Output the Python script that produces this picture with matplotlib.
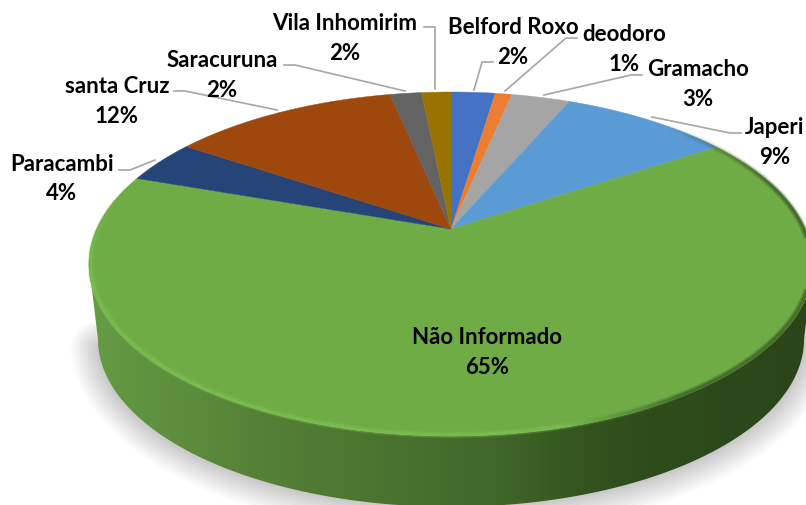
#!/usr/bin/env python3
import numpy as np
from matplotlib import pyplot as plt
from matplotlib.collections import LineCollection
from matplotlib.colors import LinearSegmentedColormap, to_rgb
from matplotlib.patches import Polygon

plt.rcParams["font.family"] = ["Lato", "DejaVu Sans"]

# data, clockwise from 12 o'clock
names = ["Belford Roxo", "deodoro", "Gramacho", "Japeri", "Não Informado",
         "Paracambi", "santa Cruz", "Saracuruna", "Vila Inhomirim"]
shares = [2.4, 0.9, 3.2, 9.2, 64.6, 4.1, 12.3, 1.7, 1.6]
pct_labels = ["2%", "1%", "3%", "9%", "65%", "4%", "12%", "2%", "2%"]
colors = ["#4472c4", "#ed7d31", "#a5a5a5", "#5b9bd5", "#6fac46",
          "#264478", "#9e480e", "#636363", "#997300"]

label_pos = [(513, 27), (624, 34), (698, 69), (775, 127), (487, 338),
             (62, 164), (117, 86), (222, 60), (345, 23)]
leaders = [[(493, 63), (482, 63), (474, 91)],
           [(577, 39), (566, 39), (505, 92)],
           [(642, 76), (631, 76), (544, 96)],
           [(741, 134), (730, 134), (652, 118)],
           None,
           [(119, 171), (130, 171), (155, 161)],
           [(174, 92), (185, 92), (277, 111)],
           [(284, 66), (295, 66), (405, 92)],
           [(424, 28), (435, 28), (435, 90)]]

# perspective of the tilted disc, in pixels
CX, CY = 451, 230
A, B, K = 354.5, 164.9, 0.2036
DEPTH = 76


def project(x, y, scale=1.0, drop=0.0):
    w = 1 + K * y
    return CX + scale * A * x / w, CY - scale * B * y / w + drop


fig = plt.figure(figsize=(8.06, 5.06), dpi=100)
ax = fig.add_axes([0, 0, 1, 1])
wedges, _ = ax.pie(shares, startangle=90, counterclock=False, colors=colors)
ax.set_aspect("auto")
ax.set_xlim(0, 806)
ax.set_ylim(506, 0)
ax.set_axis_off()

# front of the rim between the two tangent points of the disc outline
tangent = np.degrees(np.arcsin(K))
front = np.radians(np.linspace(180 + tangent, 360 - tangent, 400))
fx, fy = project(np.cos(front), np.sin(front))
bx, by = project(np.cos(front), np.sin(front), 0.975, DEPTH)
side_pts = np.r_[np.c_[fx, fy], np.c_[bx, by][::-1]]

# soft shadow under the lower edge only
low = np.radians(np.linspace(180 + tangent + 3, 360 - tangent, 300))
sx, sy = project(np.cos(low), np.sin(low), 0.975, DEPTH)
for lw in range(40, 0, -3):
    ax.plot(sx, sy, color="#000000", alpha=0.014, lw=lw, zorder=1,
            solid_capstyle="round")

# side wall
side_cmap = LinearSegmentedColormap.from_list(
    "side", [(0, "#659c44"), (0.25, "#547f36"), (0.55, "#42682a"),
             (0.72, "#2f4f1c"), (1, "#2b4419")])
grad = ax.imshow(np.linspace(0, 1, 512)[None, :], cmap=side_cmap, aspect="auto",
                 extent=[88, 815, 506, 90], zorder=2)
clip = Polygon(side_pts, closed=True, transform=ax.transData)
grad.set_clip_path(clip)
ax.set_xlim(0, 806)
ax.set_ylim(506, 0)

# top face, slices come from the pie layout
for w, c in zip(wedges, colors):
    th = np.radians(np.linspace(w.theta1, w.theta2, 300))
    px, py = project(np.cos(th), np.sin(th))
    ax.add_patch(Polygon(np.r_[[[CX, CY]], np.c_[px, py]], closed=True,
                         facecolor=c, edgecolor=c, lw=0.3, zorder=3))
    w.set_visible(False)

# bevel along the front edge, fading out at both ends
rim = np.radians(np.linspace(165, 405, 600))
rx, ry = project(0.995 * np.cos(rim), 0.995 * np.sin(rim))
segs = np.stack([np.c_[rx[:-1], ry[:-1]], np.c_[rx[1:], ry[1:]]], axis=1)
light, dark = np.array(to_rgb("#7fc555")), np.array(to_rgb("#2f4c1d"))
mix = np.clip((rx[:-1] - 560) / 120, 0, 1)[:, None]
fade = np.clip(np.minimum(rim[:-1] - rim[0], rim[-1] - rim[:-1]) / np.radians(30), 0, 1)
seg_rgb = light * (1 - mix) + dark * mix
for lw, alpha in [(5, 0.18), (3.5, 0.25), (2, 0.4)]:
    seg_colors = np.c_[seg_rgb, alpha * fade]
    ax.add_collection(LineCollection(segs, colors=seg_colors, lw=lw,
                                     zorder=4, capstyle="butt"))

# labels and leader lines
for name, pct, (lx, ly), lead in zip(names, pct_labels, label_pos, leaders):
    ax.text(lx, ly, name, ha="center", va="center", fontsize=16,
            fontweight="bold", color="#000000", zorder=6)
    ax.text(lx, ly + 30, pct, ha="center", va="center", fontsize=16,
            fontweight="bold", color="#000000", zorder=6)
    if lead:
        xs, ys = zip(*lead)
        ax.plot(xs, ys, color="#a6a6a6", lw=1.2, zorder=5)

fig.savefig("out.png", dpi=100, facecolor="white")
